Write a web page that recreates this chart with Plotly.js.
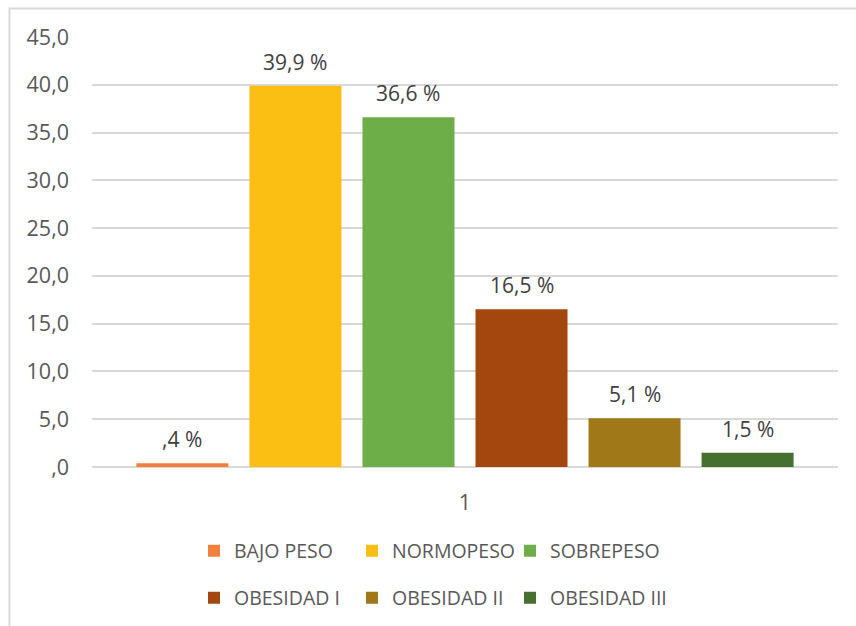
<!DOCTYPE html>
<html>
<head>
<meta charset="utf-8">
<script src="https://cdn.plot.ly/plotly-3.0.1.min.js"></script>
<style>html,body{margin:0;padding:0;background:#fff;}#chart{width:856px;height:626px;}</style>
</head>
<body>
<div id="chart"></div>
<script>
const categories = ["BAJO PESO", "NORMOPESO", "SOBREPESO", "OBESIDAD I", "OBESIDAD II", "OBESIDAD III"];
const values = [0.4, 39.9, 36.6, 16.5, 5.1, 1.5];
const labels = [",4 %", "39,9 %", "36,6 %", "16,5 %", "5,1 %", "1,5 %"];
const colors = ["#F2803C", "#FBBF14", "#6EAE48", "#A4470F", "#A07818", "#46702F"];
const yTickVals = [0, 5, 10, 15, 20, 25, 30, 35, 40, 45];
const yTickText = [",0", "5,0", "10,0", "15,0", "20,0", "25,0", "30,0", "35,0", "40,0", "45,0"];
const xCategoryLabel = "1";

const FONT = "Open Sans, sans-serif";
const idx = categories.map((c, i) => i);
const center = (idx[0] + idx[idx.length - 1]) / 2;

const traces = categories.map((name, i) => ({
  type: "bar",
  name: name,
  x: [idx[i]],
  y: [values[i]],
  width: 0.814,
  marker: {color: colors[i]},
  legend: i < 3 ? "legend" : "legend2",
  hoverinfo: "name+y"
}));

const annotations = categories.map((c, i) => ({
  x: idx[i], y: values[i], xref: "x", yref: "y",
  text: labels[i], showarrow: false, yanchor: "middle", yshift: 24,
  font: {family: FONT, size: 21, color: "#404040"}
}));

const legendCommon = {
  orientation: "h", xref: "container", yref: "container",
  xanchor: "left", yanchor: "middle",
  font: {family: FONT, size: 19.5, color: "#595959"},
  entrywidth: 113, entrywidthmode: "pixels",
  bgcolor: "rgba(0,0,0,0)", traceorder: "normal"
};

const layout = {
  width: 856, height: 626,
  margin: {l: 92, r: 18, t: 37, b: 159},
  paper_bgcolor: "#fff", plot_bgcolor: "#fff",
  barmode: "overlay",
  showlegend: true,
  xaxis: {
    range: [-0.8, 5.8], tickvals: [center], ticktext: [xCategoryLabel],
    showgrid: false, zeroline: false, showline: false, ticks: "",
    ticklabelstandoff: 20,
    tickfont: {family: FONT, size: 21.5, color: "#595959"}
  },
  yaxis: {
    range: [0, 45], tickvals: yTickVals, ticktext: yTickText,
    showgrid: true, gridcolor: "#D9D9D9", gridwidth: 1.5,
    zeroline: true, zerolinecolor: "#D9D9D9", zerolinewidth: 2,
    showline: false, ticks: "", ticklabelstandoff: 22,
    tickfont: {family: FONT, size: 21.5, color: "#595959"}
  },
  legend: Object.assign({}, legendCommon, {x: 194 / 856, y: 1 - 551 / 626}),
  legend2: Object.assign({}, legendCommon, {x: 194 / 856, y: 1 - 598 / 626}),
  annotations: annotations,
  shapes: [{
    type: "rect", xref: "paper", yref: "paper", layer: "below",
    x0: (9.5 - 92) / 746, x1: (900 - 92) / 746,
    y0: (467 - 700) / 430, y1: (467 - 8.5) / 430,
    line: {color: "#D9D9D9", width: 2}, fillcolor: "rgba(0,0,0,0)"
  }]
};

Plotly.newPlot("chart", traces, layout, {displayModeBar: false, responsive: false});
</script>
</body>
</html>
